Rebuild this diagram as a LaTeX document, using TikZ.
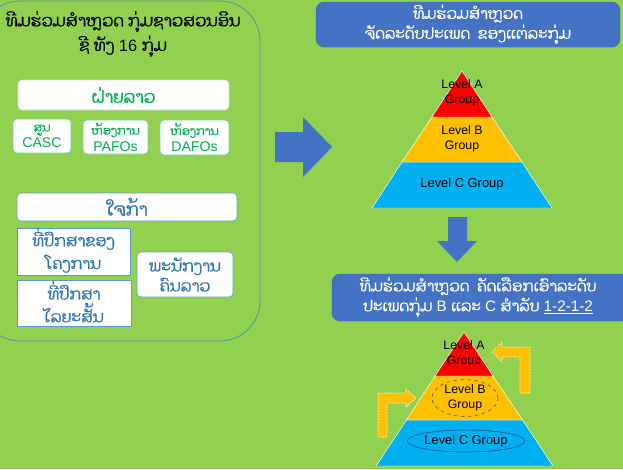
\documentclass[tikz,border=0pt]{standalone}
\usepackage{fontspec}
\setmainfont{Liberation Sans}
\newfontfamily\lao[Script=Lao, FakeBold=0.7]{Dhyana}
\usetikzlibrary{shapes.geometric,fit}
\definecolor{bg}{HTML}{92D050}
\definecolor{outl}{HTML}{4F9C9C}
\definecolor{bblue}{HTML}{4472C4}
\definecolor{pred}{HTML}{FF0000}
\definecolor{pyel}{HTML}{FFC000}
\definecolor{pcyan}{HTML}{00B0F0}
\definecolor{tgreen}{HTML}{00B050}
\definecolor{tblue}{HTML}{2E75B6}
\definecolor{lblue}{HTML}{5B9BD5}
\definecolor{dkblue}{HTML}{2F5597}
\begin{document}
\begin{tikzpicture}[x=0.03cm,y=-0.03cm,
  boxw/.style={draw=#1, fill=white, line width=0.5pt, inner sep=0pt},
  rbox/.style={boxw=#1, rounded corners=0.12cm},
  bluebox/.style={fill=bblue, draw=bblue!85!black, line width=0.4pt, rounded corners=0.25cm, inner sep=0pt},
  titletxt/.style={align=center, font=\fontsize{14}{21}\selectfont, inner sep=0pt},
  greentxt/.style={align=center, text=tgreen, inner sep=0pt},
  bluetxt/.style={align=center, text=tblue, inner sep=0pt},
  whitetxt/.style={align=center, text=white, inner sep=0pt, font=\fontsize{13}{17}\selectfont},
  pyrtxt/.style={align=center, inner sep=0pt, font=\fontsize{10.5}{12.5}\selectfont},
  layer/.style={draw=white, line width=0.4pt},
  blockarrow/.style={fill=bblue, draw=none},
  yarrow/.style={fill=pyel, draw=white, line width=0.5pt, dash pattern=on 1.2pt off 1.2pt}
]
\fill[bg] (0,0) rectangle (623,469);
\useasboundingbox (0,0) rectangle (623,469);

% left panel
\draw[outl, line width=0.7pt, rounded corners=1.2cm] (-20,1) rectangle (260,341);
\node[titletxt] (title) at (123,34) {{\lao ທີມຮ່ວມສຳຫຼວດ ກຸ່ມຊາວສວນອິນ}\\{\lao ຊີ ທັງ} 16 {\lao ກຸ່ມ}};

\node[rbox=white!85!black, fit={(18,80) (229,110)}] (laoside) {};
\node[greentxt, font=\lao\fontsize{14.5}{16}\selectfont] (laosidet) at (laoside.center) {ຝ່າຍລາວ};

\node[rbox=tgreen!60, fit={(13,119) (71,153)}] (casc) {};
\node[greentxt, font=\fontsize{12}{14}\selectfont] (casct) at (casc.center) {{\lao\fontsize{10}{12}\selectfont ສູນ}\\CASC};
\node[rbox=tgreen!60, fit={(83,120) (148,154)}] (pafo) {};
\node[greentxt, font=\fontsize{12}{14}\selectfont] (pafot) at (pafo.center) {{\lao\fontsize{10}{12}\selectfont ຫ້ອງການ}\\PAFOs};
\node[rbox=tgreen!60, fit={(160,120) (229,155)}] (dafo) {};
\node[greentxt, font=\fontsize{12}{14}\selectfont] (dafot) at (dafo.center) {{\lao\fontsize{10}{12}\selectfont ຫ້ອງການ}\\DAFOs};

\node[rbox=lblue, fit={(17,193) (237,221)}] (jica) {};
\node[bluetxt, font=\lao\fontsize{15}{16}\selectfont] (jicat) at (jica.center) {ໃຈກ້າ};

\node[boxw=lblue, fit={(17,228) (130,275)}] (adv1) {};
\node[bluetxt, font=\lao\fontsize{13.5}{19.5}\selectfont] (adv1t) at ([yshift=0.04cm]adv1.center) {ທີ່ປຶກສາຂອງ\\ໂຄງການ};
\node[boxw=lblue, fit={(17,280) (131,326)}] (adv2) {};
\node[bluetxt, font=\lao\fontsize{13.5}{19.5}\selectfont] (adv2t) at ([yshift=0.04cm]adv2.center) {ທີ່ປຶກສາ\\ໄລຍະສັ້ນ};
\node[rbox=lblue, fit={(137,252) (233,297)}] (staff) {};
\node[bluetxt, font=\lao\fontsize{13.5}{17}\selectfont] (stafft) at (staff.center) {ພະນັກງານ\\ຄົນລາວ};

% right arrow
\fill[blockarrow] (275,132) -- (303,132) -- (303,117) -- (332,147) -- (303,177) -- (303,162) -- (275,162) -- cycle;

% top blue box
\node[bluebox, fit={(316,2) (620,47)}] (box1) {};
\node[whitetxt] (box1t) at (box1.center) {{\lao ທີມຮ່ວມສຳຫຼວດ}\\{\lao ຈັດລະດັບປະເພດ\ \ ຂອງແຕ່ລະກຸ່ມ}};

% pyramid 1
\filldraw[layer, fill=pcyan] (402,162) -- (522,162) -- (552,208) -- (372,208) -- cycle;
\filldraw[layer, fill=pyel] (432,117) -- (492,117) -- (522,162) -- (402,162) -- cycle;
\filldraw[layer, fill=pred] (462,71) -- (492,117) -- (432,117) -- cycle;
\node[pyrtxt] (p1a) at (462,93) {Level A\\Group};
\node[pyrtxt] (p1b) at (462,139) {Level B\\Group};
\node[pyrtxt, font=\fontsize{11}{13}\selectfont] (p1c) at (462,184) {Level C Group};

% down arrow
\fill[blockarrow] (448,217) -- (467,217) -- (467,241) -- (477,241) -- (457,262) -- (437,241) -- (448,241) -- cycle;

% second blue box
\node[bluebox, fit={(332,274) (640,321)}] (box2) {};
\node[whitetxt] (box2t) at (478,297) {{\lao ທີມຮ່ວມສຳຫຼວດ\ \ ຄັດເລືອກເອົາລະດັບ}\\{\lao ປະເພດກຸ່ມ} B {\lao ແລະ} C {\lao ສຳລັບ} \underline{1-2-1-2}};

% pyramid 2
\filldraw[layer, fill=pcyan] (406.5,420) -- (522.5,420) -- (553,466) -- (376,466) -- cycle;
\filldraw[layer, fill=pyel] (435,376) -- (493,376) -- (522.5,420) -- (406.5,420) -- cycle;
\filldraw[layer, fill=pred] (464,332) -- (493,376) -- (435,376) -- cycle;
\node[pyrtxt] (p2a) at (464,354) {Level A\\Group};
\node[pyrtxt, ellipse, draw=black!60, dashed, line width=0.6pt, minimum width=1.98cm, minimum height=0.92cm] (p2b) at (465,398) {Level B\\Group};
\node[pyrtxt, font=\fontsize{11}{13}\selectfont, ellipse, draw=dkblue, line width=0.6pt, minimum width=3.3cm, minimum height=0.66cm] (p2c) at (466,441) {Level C Group};

% yellow bent arrows
\filldraw[yarrow] (378,437) -- (378,393) -- (406,393) -- (406,389) -- (416,398) -- (406,407) -- (406,403) -- (387,403) -- (387,437) -- cycle;
\filldraw[yarrow] (530,393) -- (530,347) -- (502,347) -- (502,342) -- (492,352) -- (502,362) -- (502,357) -- (520,357) -- (520,393) -- cycle;
\end{tikzpicture}
\end{document}
